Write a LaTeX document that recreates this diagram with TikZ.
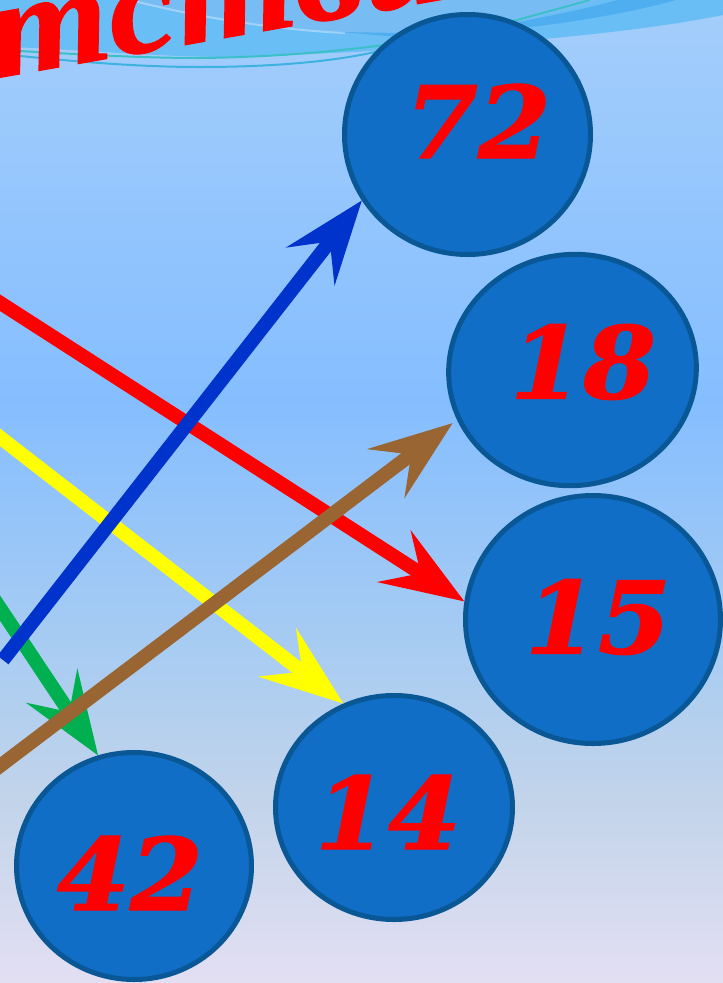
\documentclass[tikz,border=0pt]{standalone}
\usepackage{fontspec}
\usetikzlibrary{arrows.meta,shapes.geometric}
\newfontfamily\numfont{DejaVu Serif}[BoldItalicFeatures={FakeStretch=1.05,FakeBold=1.2}]
\newfontfamily\titlefont{Liberation Serif}[BoldItalicFeatures={FakeStretch=1.10,FakeBold=0.8}]
\definecolor{bgA}{HTML}{A4CEFB}
\definecolor{bgB}{HTML}{85BEFF}
\definecolor{bgC}{HTML}{A8CCF2}
\definecolor{bgD}{HTML}{C2D4EA}
\definecolor{bgE}{HTML}{E3DFF3}
\definecolor{bandA}{HTML}{68BEF5}
\definecolor{bandB}{HTML}{4FAEF0}
\definecolor{bandC}{HTML}{A0D2FA}
\definecolor{bandS}{HTML}{78BCF4}
\definecolor{lineT}{HTML}{3CC0C8}
\definecolor{lineB}{HTML}{3DB2E0}
\definecolor{ballfill}{HTML}{106EC6}
\definecolor{balledge}{HTML}{0A5796}
\definecolor{arrRed}{HTML}{FF0000}
\definecolor{arrBlue}{HTML}{0033CC}
\definecolor{arrYellow}{HTML}{FFFF00}
\definecolor{arrBrown}{HTML}{996633}
\definecolor{arrGreen}{HTML}{00B050}
\tikzset{
  ball/.style={ellipse,draw=balledge,fill=ballfill,line width=5pt,inner sep=0pt},
  numtext/.style={text=red,inner sep=0pt,font=\fontsize{100}{100}\numfont\bfseries\itshape},
  conn/.style={line width=14pt,-{Stealth[length=84pt,width=62pt,inset=32pt,line width=0pt]}},
}
\begin{document}
\begin{tikzpicture}[x=1pt,y=-1pt]
\useasboundingbox (0,0) rectangle (723,983);
\clip (0,0) rectangle (723,983);
% background
\shade[top color=bgA,bottom color=bgB] (0,0) rectangle (723,400.5);
\shade[top color=bgB,bottom color=bgC] (0,400) rectangle (723,650.5);
\shade[top color=bgC,bottom color=bgD] (0,650) rectangle (723,800.5);
\shade[top color=bgD,bottom color=bgE] (0,800) rectangle (723,983);
% swooshes
\fill[bandA] (0,0) -- (0,47) .. controls (80,48) and (190,62) .. (290,55)
  .. controls (400,50) and (600,40) .. (723,15) -- (723,0) -- cycle;
\fill[bandS] (130,0) .. controls (200,18) and (280,30) .. (345,33)
  -- (400,36) -- (520,22) -- (600,0) -- cycle;
\draw[bandC,line width=2pt] (130,0) .. controls (200,18) and (280,30) .. (345,33);
\fill[bandB] (340,32) -- (400,33) -- (400,37) -- cycle;
\fill[bandB] (518,22) .. controls (550,16) and (590,8) .. (617,0) -- (676,0)
  .. controls (640,10) and (590,20) .. (530,27) -- cycle;
\draw[lineT,line width=2pt] (0,50) .. controls (60,53) and (130,58) .. (200,58)
  .. controls (300,57) and (420,45) .. (517,20) -- (590,0);
\draw[lineB,line width=2pt] (0,54) .. controls (60,60) and (130,67) .. (200,67)
  .. controls (270,67) and (330,62) .. (375,52);
% title
\node[text=red,inner sep=0pt,rotate=10,font=\fontsize{140}{140}\titlefont\bfseries\itshape] (title) at (220,6) {етствие};
% connectors' free ends
\coordinate (redstart) at (-12,295);
\coordinate (yellowstart) at (-12,428);
\coordinate (greenstart) at (-12,590);
\coordinate (brownstart) at (-12,775);
\coordinate (bluestart) at (3,660);
% nodes
\node[ball,minimum width=246pt,minimum height=240pt] (n72) at (467.5,134.5) {};
\node[ball,minimum width=248pt,minimum height=231pt,rotate=8] (n18) at (572.5,370) {};
\node[ball,minimum width=255pt,minimum height=248pt] (n15) at (593,619.5) {};
\node[ball,minimum width=237pt,minimum height=224pt] (n14) at (394,807.5) {};
\node[ball,minimum width=235pt,minimum height=227pt] (n42) at (134,866) {};
% connectors
\draw[conn,arrGreen] (greenstart) -- (n42.108);
\draw[conn,arrRed] (redstart) -- (n15.172);
\draw[conn,arrYellow] (yellowstart) -- (n14.116);
\draw[conn,arrBrown] (brownstart) -- ([xshift=-6pt]n18.197);
\draw[conn,arrBlue] (bluestart) -- (n72.212);
% numbers
\node[numtext] (t72) at (478,121) {72};
\node[numtext] (t18) at (583,362) {18};
\node[numtext] (t15) at (598,617) {15};
\node[numtext] (t14) at (388,812) {14};
\node[numtext] (t42) at (130,873) {42};
\end{tikzpicture}
\end{document}
